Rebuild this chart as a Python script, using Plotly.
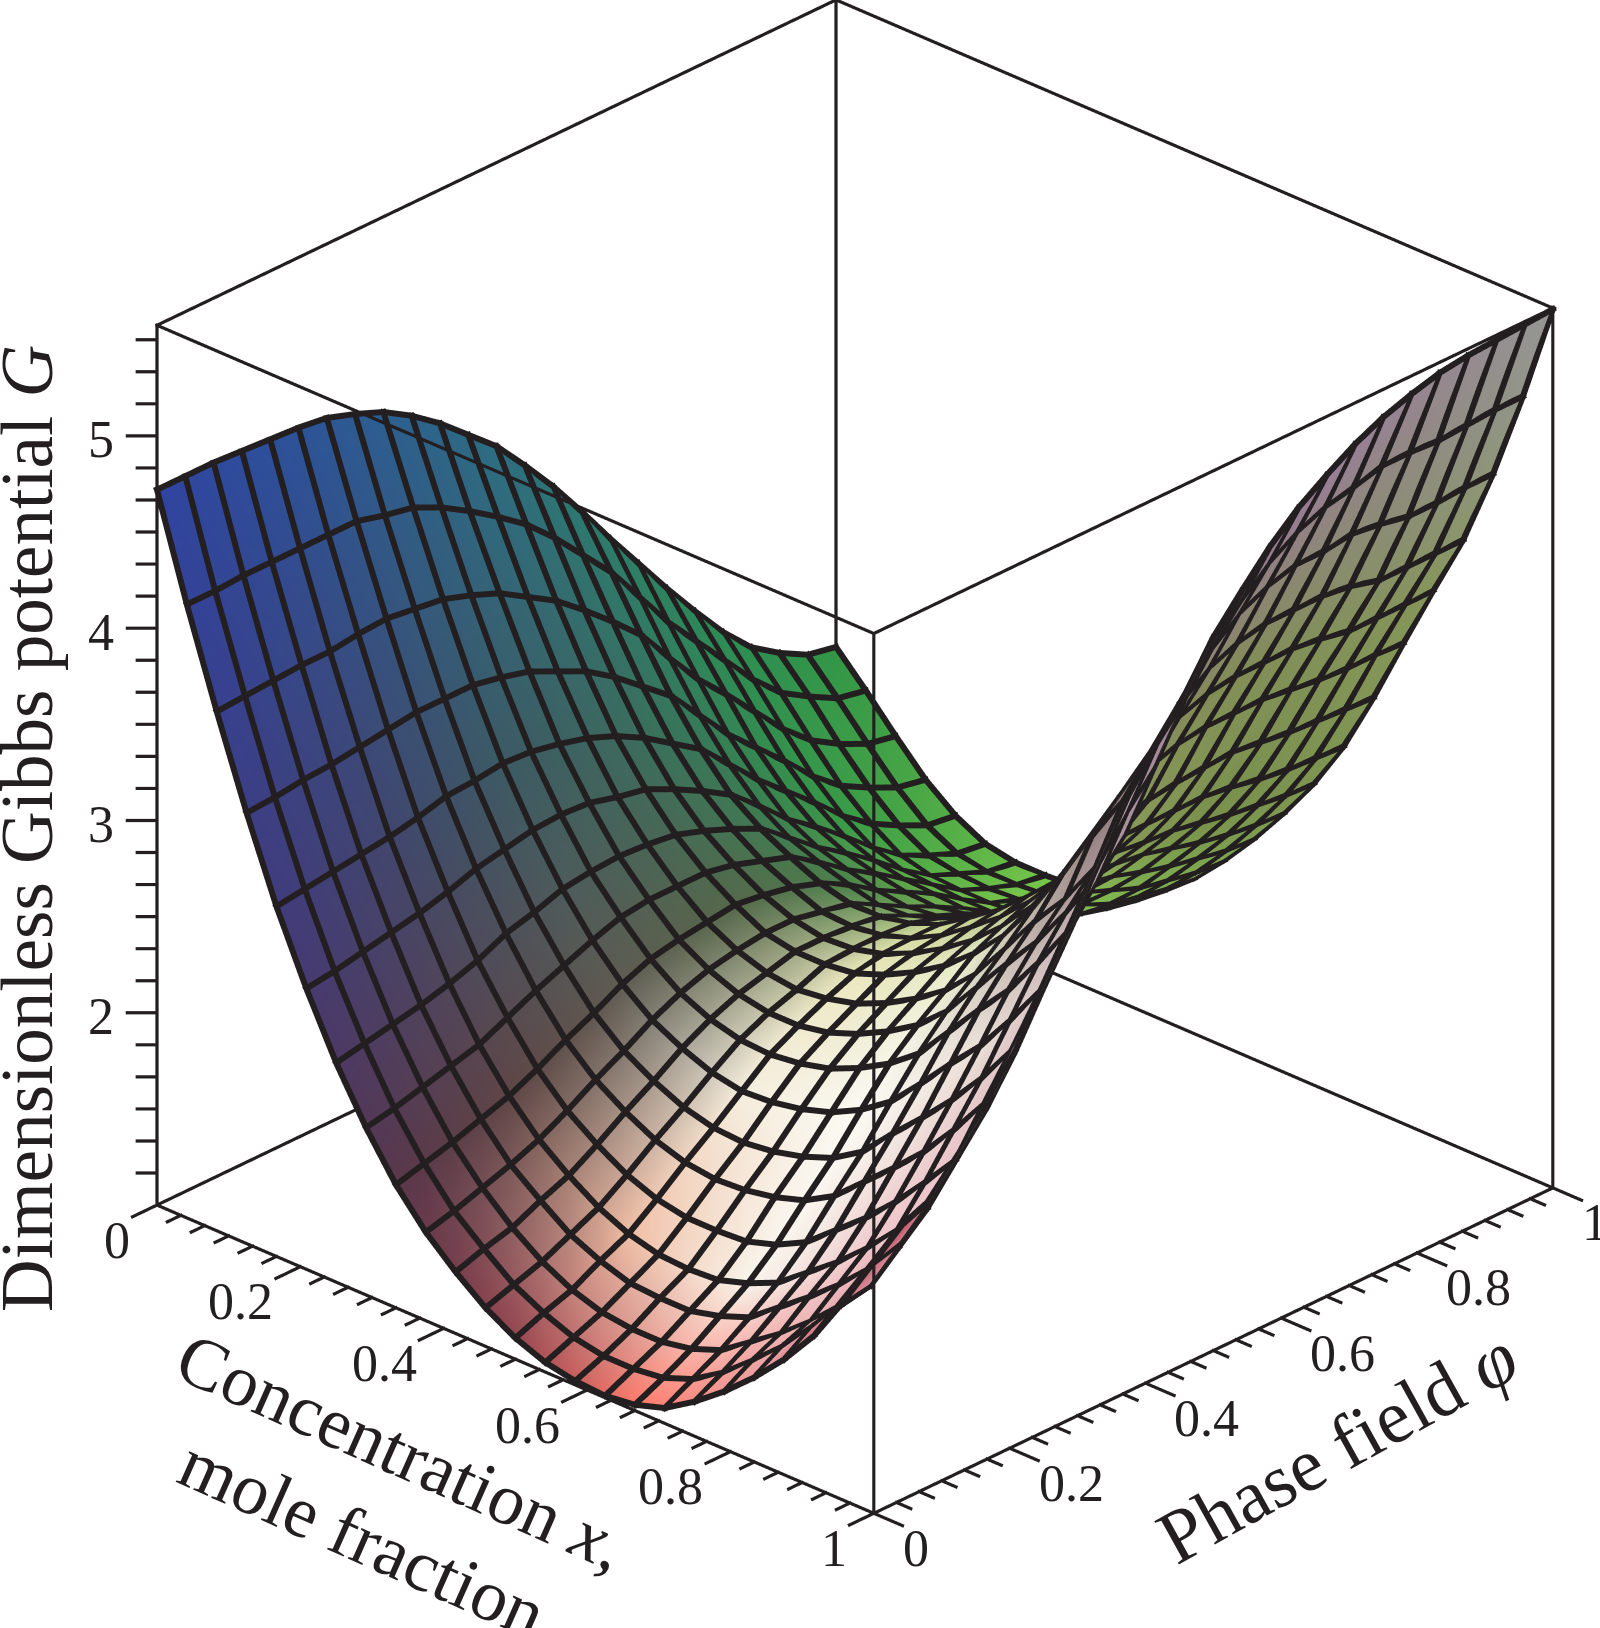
import numpy as np
import plotly.graph_objects as go

# grid nodes of the plot (25 x 25)
x_nodes = [k / 24 for k in range(25)]
phi_nodes = [k / 24 for k in range(25)]

# G, one row per phi node, columns follow x_nodes
G = [
    [4.72, 4.19, 3.70, 3.24, 2.82, 2.46, 2.14, 1.87, 1.64, 1.46, 1.32, 1.20, 1.11, 1.05, 1.02, 1.01, 1.03, 1.08, 1.18, 1.30, 1.44, 1.60, 1.79, 2.05, 2.31],
    [4.72, 4.19, 3.71, 3.25, 2.84, 2.48, 2.17, 1.90, 1.68, 1.50, 1.37, 1.25, 1.17, 1.11, 1.08, 1.08, 1.10, 1.16, 1.26, 1.39, 1.53, 1.70, 1.89, 2.16, 2.43],
    [4.72, 4.20, 3.72, 3.27, 2.86, 2.51, 2.20, 1.94, 1.72, 1.55, 1.41, 1.30, 1.22, 1.17, 1.15, 1.15, 1.18, 1.24, 1.35, 1.46, 1.59, 1.74, 1.91, 2.20, 2.49],
    [4.71, 4.20, 3.73, 3.28, 2.88, 2.54, 2.23, 1.98, 1.77, 1.60, 1.48, 1.37, 1.30, 1.25, 1.24, 1.24, 1.28, 1.34, 1.46, 1.58, 1.71, 1.86, 2.04, 2.35, 2.66],
    [4.70, 4.20, 3.73, 3.30, 2.90, 2.57, 2.27, 2.02, 1.82, 1.66, 1.54, 1.44, 1.37, 1.33, 1.32, 1.33, 1.38, 1.45, 1.57, 1.69, 1.83, 1.99, 2.17, 2.50, 2.83],
    [4.69, 4.20, 3.75, 3.32, 2.93, 2.61, 2.32, 2.09, 1.89, 1.74, 1.63, 1.54, 1.48, 1.45, 1.45, 1.46, 1.51, 1.59, 1.72, 1.85, 2.00, 2.17, 2.35, 2.70, 3.05],
    [4.67, 4.20, 3.76, 3.34, 2.97, 2.66, 2.39, 2.16, 1.97, 1.83, 1.73, 1.65, 1.60, 1.58, 1.59, 1.62, 1.67, 1.76, 1.90, 2.04, 2.19, 2.37, 2.57, 2.94, 3.31],
    [4.62, 4.16, 3.74, 3.34, 2.98, 2.69, 2.43, 2.22, 2.04, 1.91, 1.82, 1.75, 1.71, 1.70, 1.72, 1.76, 1.82, 1.92, 2.08, 2.23, 2.39, 2.57, 2.78, 3.17, 3.56],
    [4.56, 4.13, 3.72, 3.34, 3.00, 2.72, 2.48, 2.28, 2.12, 2.00, 1.92, 1.86, 1.83, 1.84, 1.87, 1.92, 2.00, 2.11, 2.27, 2.44, 2.60, 2.80, 3.02, 3.43, 3.84],
    [4.47, 4.06, 3.67, 3.31, 2.99, 2.73, 2.50, 2.33, 2.18, 2.07, 2.00, 1.96, 1.95, 1.97, 2.01, 2.08, 2.17, 2.29, 2.47, 2.65, 2.82, 3.03, 3.26, 3.68, 4.10],
    [4.36, 3.97, 3.61, 3.27, 2.96, 2.72, 2.51, 2.35, 2.21, 2.12, 2.06, 2.03, 2.03, 2.06, 2.12, 2.20, 2.30, 2.44, 2.63, 2.82, 3.00, 3.22, 3.46, 3.88, 4.30],
    [4.23, 3.87, 3.52, 3.20, 2.92, 2.68, 2.50, 2.35, 2.23, 2.15, 2.10, 2.08, 2.10, 2.14, 2.21, 2.30, 2.41, 2.56, 2.76, 2.97, 3.15, 3.38, 3.63, 4.05, 4.47],
    [4.10, 3.76, 3.43, 3.13, 2.86, 2.65, 2.48, 2.35, 2.25, 2.17, 2.14, 2.14, 2.16, 2.22, 2.30, 2.40, 2.53, 2.69, 2.90, 3.15, 3.42, 3.66, 3.95, 4.33, 4.71],
    [3.93, 3.62, 3.31, 3.03, 2.78, 2.58, 2.43, 2.32, 2.23, 2.17, 2.14, 2.15, 2.19, 2.26, 2.35, 2.46, 2.60, 2.77, 3.00, 3.28, 3.56, 3.85, 4.16, 4.52, 4.88],
    [3.75, 3.46, 3.18, 2.91, 2.68, 2.50, 2.37, 2.27, 2.20, 2.14, 2.13, 2.15, 2.20, 2.28, 2.39, 2.51, 2.66, 2.84, 3.08, 3.41, 3.70, 4.03, 4.37, 4.69, 5.04],
    [3.55, 3.30, 3.04, 2.79, 2.58, 2.41, 2.30, 2.22, 2.15, 2.11, 2.11, 2.14, 2.20, 2.30, 2.41, 2.55, 2.70, 2.90, 3.15, 3.49, 3.82, 4.14, 4.49, 4.82, 5.17],
    [3.34, 3.10, 2.85, 2.62, 2.43, 2.28, 2.18, 2.12, 2.07, 2.03, 2.04, 2.09, 2.16, 2.27, 2.40, 2.54, 2.71, 2.92, 3.18, 3.54, 3.87, 4.20, 4.56, 4.91, 5.27],
    [3.14, 2.90, 2.67, 2.45, 2.28, 2.14, 2.06, 2.01, 1.97, 1.95, 1.97, 2.03, 2.11, 2.23, 2.37, 2.53, 2.71, 2.92, 3.20, 3.56, 3.89, 4.23, 4.60, 4.97, 5.36],
    [2.94, 2.73, 2.52, 2.31, 2.15, 2.03, 1.96, 1.92, 1.89, 1.88, 1.91, 1.97, 2.07, 2.19, 2.34, 2.51, 2.69, 2.92, 3.21, 3.56, 3.89, 4.23, 4.60, 5.00, 5.43],
    [2.75, 2.56, 2.36, 2.17, 2.02, 1.91, 1.85, 1.82, 1.81, 1.80, 1.84, 1.91, 2.02, 2.16, 2.31, 2.49, 2.68, 2.92, 3.22, 3.56, 3.89, 4.23, 4.62, 5.04, 5.48],
    [2.57, 2.39, 2.20, 2.02, 1.88, 1.78, 1.73, 1.72, 1.71, 1.71, 1.76, 1.84, 1.96, 2.10, 2.26, 2.45, 2.65, 2.90, 3.20, 3.54, 3.87, 4.21, 4.60, 5.04, 5.52],
    [2.42, 2.25, 2.07, 1.90, 1.77, 1.67, 1.63, 1.62, 1.62, 1.63, 1.68, 1.77, 1.89, 2.04, 2.22, 2.41, 2.62, 2.87, 3.18, 3.52, 3.84, 4.17, 4.57, 5.03, 5.54],
    [2.32, 2.16, 1.98, 1.82, 1.69, 1.60, 1.57, 1.56, 1.57, 1.58, 1.64, 1.73, 1.86, 2.01, 2.19, 2.38, 2.60, 2.85, 3.17, 3.51, 3.84, 4.17, 4.57, 5.04, 5.55],
    [2.24, 2.08, 1.91, 1.75, 1.62, 1.54, 1.51, 1.51, 1.52, 1.54, 1.60, 1.70, 1.83, 1.98, 2.16, 2.36, 2.58, 2.84, 3.16, 3.51, 3.84, 4.17, 4.58, 5.05, 5.56],
    [2.21, 2.05, 1.88, 1.72, 1.60, 1.52, 1.49, 1.49, 1.50, 1.52, 1.58, 1.68, 1.81, 1.97, 2.15, 2.35, 2.57, 2.83, 3.15, 3.50, 3.84, 4.17, 4.58, 5.05, 5.57],
]

z_low, z_top = 1.0, 5.575

x_tick_labels = ["0", "0.2", "0.4", "0.6", "0.8", "1"]
phi_tick_labels = ["0", "0.2", "0.4", "0.6", "0.8", "1"]
z_tick_labels = ["2", "3", "4", "5"]

# surface colour as seen in the picture: rows phi=0,1/6..1, columns x=0,1/6..1
shade = [
    [(48, 68, 160), (65, 60, 125), (90, 55, 75), (150, 70, 80), (255, 120, 105), (235, 160, 160), (165, 40, 70)],
    [(45, 80, 155), (65, 70, 110), (95, 70, 70), (240, 190, 165), (248, 245, 235), (240, 200, 205), (240, 190, 200)],
    [(45, 95, 145), (60, 90, 100), (95, 92, 82), (245, 238, 222), (252, 250, 244), (235, 225, 215), (200, 170, 180)],
    [(45, 110, 130), (60, 105, 95), (85, 105, 75), (235, 232, 190), (230, 235, 200), (150, 130, 130), (150, 120, 145)],
    [(45, 125, 105), (55, 125, 85), (75, 130, 75), (200, 215, 140), (140, 160, 90), (130, 140, 85), (155, 125, 155)],
    [(45, 140, 85), (55, 155, 70), (115, 190, 75), (130, 190, 80), (120, 145, 75), (130, 145, 90), (150, 135, 145)],
    [(50, 150, 70), (85, 175, 70), (125, 205, 75), (125, 170, 80), (125, 150, 80), (135, 150, 90), (150, 150, 150)],
]

INK = "#231f20"
FONT = "Liberation Serif"

# view: in orthographic mode plotly zooms through the aspect ratio, not the eye distance
eye_dir = np.array([0.6877, -0.726, 0.5095])
cam_center = np.array([-0.0269, -0.0697, -0.0628])
eye = cam_center + eye_dir * 1.5
zoom = 1.213
px = 990.0  # pixels per box edge on screen

view = eye_dir / np.linalg.norm(eye_dir)
right = np.array([-view[1], view[0], 0.0])
right /= np.linalg.norm(right)
up = np.cross(view, right)
zspan = z_top - z_low
z_pad = 0.03

X, P = np.meshgrid(x_nodes, phi_nodes)
Z = np.array(G)
nr, nc = Z.shape

# vertex colours from the shade table
shade = np.array(shade, dtype=float)
u = X.ravel() * 6
v = P.ravel() * 6
i0 = np.minimum(u.astype(int), 5)
j0 = np.minimum(v.astype(int), 5)
fu = (u - i0)[:, None]
fv = (v - j0)[:, None]
rgb = (shade[j0, i0] * (1 - fu) * (1 - fv) + shade[j0, i0 + 1] * fu * (1 - fv)
       + shade[j0 + 1, i0] * (1 - fu) * fv + shade[j0 + 1, i0 + 1] * fu * fv)
vcolor = ["rgb(%d,%d,%d)" % tuple(c) for c in rgb]

# two triangles per grid cell
idx = np.arange(nr * nc).reshape(nr, nc)
a, b, c, d = idx[:-1, :-1].ravel(), idx[:-1, 1:].ravel(), idx[1:, :-1].ravel(), idx[1:, 1:].ravel()

FLAT = dict(ambient=1, diffuse=0, specular=0, fresnel=0, roughness=1)

fig = go.Figure()
fig.add_trace(go.Mesh3d(x=X.ravel(), y=P.ravel(), z=Z.ravel(),
                        i=np.r_[a, b], j=np.r_[b, d], k=np.r_[c, c],
                        vertexcolor=vcolor, flatshading=False, lighting=FLAT,
                        hoverinfo="skip", showscale=False))


def ribbons(start, end, width, lift=0.0):
    # WebGL lines stay 1 px wide here, so thick lines are thin quads facing the camera
    p = np.array(start, dtype=float)
    q = np.array(end, dtype=float)
    scale = np.array([1.0, 1.0, 1.0 / zspan])
    dv = (q - p) * scale
    sx, sy = dv @ right, dv @ up
    ln = np.hypot(sx, sy)
    ln[ln == 0] = 1
    half = 0.5 * width / px
    along = (sx / ln)[:, None] * right + (sy / ln)[:, None] * up
    across = -(sy / ln)[:, None] * right + (sx / ln)[:, None] * up
    ext = along * half / scale
    off = across * half / scale
    rise = view * lift / scale
    p0, q0 = p - ext + rise, q + ext + rise
    verts = np.vstack([p0 - off, p0 + off, q0 - off, q0 + off])
    n = len(p)
    base = np.arange(n)
    fig.add_trace(go.Mesh3d(x=verts[:, 0], y=verts[:, 1], z=verts[:, 2],
                            i=np.r_[base, base + n], j=np.r_[base + n, base + 3 * n], k=np.r_[base + 2 * n, base + 2 * n],
                            color=INK, flatshading=True, lighting=FLAT, hoverinfo="skip", showscale=False))


# the black grid
grid = np.dstack([X, P, Z])
seg_a = np.vstack([grid[:, :-1].reshape(-1, 3), grid[:-1, :].reshape(-1, 3)])
seg_b = np.vstack([grid[:, 1:].reshape(-1, 3), grid[1:, :].reshape(-1, 3)])
ribbons(seg_a, seg_b, 6, lift=0.006)

# box
edges = []
for zz in (z_low, z_top):
    edges += [((0, 0, zz), (1, 0, zz)), ((1, 0, zz), (1, 1, zz)), ((1, 1, zz), (0, 1, zz)), ((0, 1, zz), (0, 0, zz))]
for xx, yy in ((0, 0), (1, 0), (1, 1), (0, 1)):
    edges.append(((xx, yy, z_low), (xx, yy, z_top)))

# ticks: six divisions between labelled ones
for k in range(31):
    t = k / 30
    long_tick = k % 6 == 0
    edges.append(((t, 0, z_low), (t, -0.036 if long_tick else -0.02, z_low)))
    edges.append(((1, t, z_low), (1.04 if long_tick else 1.02, t, z_low)))
for k in range(1, 28):
    t = z_low + k / 6
    ln = 0.03 if k % 6 == 0 else 0.02
    edges.append(((0, 0, t), (-0.726 * ln, -0.688 * ln, t)))
ribbons([e[0] for e in edges], [e[1] for e in edges], 3.2)

# tick labels
notes = []
for k, lab in enumerate(x_tick_labels):
    notes.append(dict(x=k / 5, y=0, z=z_low, text=lab, showarrow=False, xanchor="right", yanchor="middle",
                      xshift=-25, yshift=-35, font=dict(family=FONT, size=52, color=INK)))
for k, lab in enumerate(phi_tick_labels):
    notes.append(dict(x=1, y=k / 5, z=z_low, text=lab, showarrow=False, xanchor="left", yanchor="middle",
                      xshift=27, yshift=-35, font=dict(family=FONT, size=52, color=INK)))
for k, lab in enumerate(z_tick_labels):
    notes.append(dict(x=0, y=0, z=float(lab), text=lab, showarrow=False, xanchor="right", yanchor="middle",
                      xshift=-41, yshift=-4, font=dict(family=FONT, size=52, color=INK)))

hidden = dict(visible=False, showspikes=False)

fig.update_layout(
    width=1600, height=1628,
    margin=dict(l=0, r=0, t=0, b=0),
    paper_bgcolor="white",
    showlegend=False,
    scene=dict(
        domain=dict(x=[0, 1], y=[0, 1]),
        xaxis=dict(range=[-0.05, 1.05], **hidden),
        yaxis=dict(range=[-0.05, 1.05], **hidden),
        zaxis=dict(range=[z_low - z_pad, z_top + z_pad], **hidden),
        aspectmode="manual",
        aspectratio=dict(x=1.1 * zoom, y=1.1 * zoom, z=(zspan + 2 * z_pad) / zspan * zoom),
        camera=dict(projection=dict(type="orthographic"),
                    up=dict(x=0, y=0, z=1),
                    center=dict(x=cam_center[0], y=cam_center[1], z=cam_center[2]),
                    eye=dict(x=eye[0], y=eye[1], z=eye[2])),
        annotations=notes,
    ),
    annotations=[
        dict(text="Dimensionless Gibbs potential <i>G</i>", xref="paper", yref="paper", x=27 / 1600, y=1 - 829 / 1628,
             showarrow=False, textangle=-90, xanchor="center", yanchor="middle",
             font=dict(family=FONT, size=73, color=INK)),
        dict(text="Concentration <i>x</i>,<br>mole fraction", xref="paper", yref="paper", x=382 / 1600, y=1 - 1495 / 1628,
             showarrow=False, textangle=24, xanchor="center", yanchor="middle", align="center",
             font=dict(family=FONT, size=73, color=INK)),
        dict(text="Phase field <i>φ</i>", xref="paper", yref="paper", x=1337 / 1600, y=1 - 1447 / 1628,
             showarrow=False, textangle=-29, xanchor="center", yanchor="middle",
             font=dict(family=FONT, size=76, color=INK)),
    ],
)

fig.write_html("out.html", config=dict(displayModeBar=False),
               post_script="document.body.style.margin='0';")
